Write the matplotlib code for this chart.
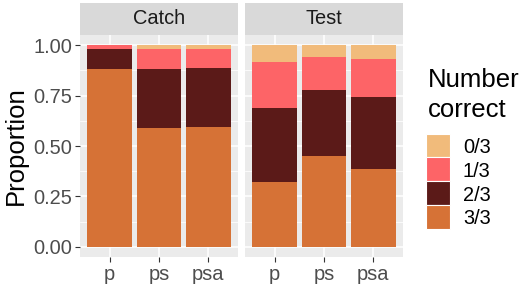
import matplotlib
matplotlib.use("Agg")
import matplotlib.pyplot as plt
from matplotlib.patches import Rectangle
import numpy as np

plt.rcParams['font.family'] = ['Liberation Sans', 'DejaVu Sans']

panels = ["Catch", "Test"]
conditions = ["p", "ps", "psa"]
levels = ["3/3", "2/3", "1/3", "0/3"]  # bottom to top
colors = {"0/3": "#F1BB7B", "1/3": "#FD6467", "2/3": "#5B1A18", "3/3": "#D67236"}

catch_33 = [0.881, 0.590, 0.593]
catch_23 = [0.099, 0.291, 0.293]
catch_13 = [0.020, 0.099, 0.094]
catch_03 = [0.000, 0.020, 0.020]

test_33 = [0.320, 0.450, 0.386]
test_23 = [0.367, 0.327, 0.357]
test_13 = [0.230, 0.165, 0.186]
test_03 = [0.083, 0.058, 0.071]

data = {
    "Catch": {"3/3": catch_33, "2/3": catch_23, "1/3": catch_13, "0/3": catch_03},
    "Test": {"3/3": test_33, "2/3": test_23, "1/3": test_13, "0/3": test_03},
}

W, H = 524, 286
fig = plt.figure(figsize=(W / 100, H / 100), dpi=100)

panel_left = [80, 245]
panel_w = 158
panel_top, panel_bot = 35, 257
strip_top = 3

tick_pt = 14.4
title_pt = 18.5

axes = []
for i, pname in enumerate(panels):
    l = panel_left[i]
    ax = fig.add_axes([l / W, (H - panel_bot) / H, panel_w / W, (panel_bot - panel_top) / H])
    axes.append(ax)
    ax.set_facecolor("#EBEBEB")
    x = np.arange(1, len(conditions) + 1)
    bottom = np.zeros(len(conditions))
    for lev in levels:
        vals = np.array(data[pname][lev])
        ax.bar(x, vals, width=0.9, bottom=bottom, color=colors[lev], linewidth=0, zorder=3)
        bottom = bottom + vals
    ax.set_xlim(0.4, 3.6)
    ax.set_ylim(-0.05, 1.05)
    ax.set_xticks(x)
    ax.set_xticklabels(conditions)
    ax.set_yticks([0, 0.25, 0.5, 0.75, 1.0])
    ax.set_yticks([0.125, 0.375, 0.625, 0.875], minor=True)
    ax.grid(True, which="major", color="white", linewidth=1.1, zorder=1)
    ax.grid(True, which="minor", axis="y", color="white", linewidth=0.55, zorder=1)
    ax.set_axisbelow(True)
    for s in ax.spines.values():
        s.set_visible(False)
    ax.tick_params(axis="both", which="major", length=3.5, width=0.8, color="#333333",
                   labelcolor="#4D4D4D", labelsize=tick_pt, pad=2)
    ax.tick_params(axis="both", which="minor", length=0)
    if i == 0:
        ax.set_yticklabels(["0.00", "0.25", "0.50", "0.75", "1.00"])
        ax.set_ylabel("Proportion", fontsize=title_pt, color="black", labelpad=4)
    else:
        ax.tick_params(axis="y", which="major", length=0, labelleft=False)
    # strip
    sax = fig.add_axes([l / W, (H - panel_top) / H, panel_w / W, (panel_top - strip_top) / H])
    sax.set_facecolor("#D9D9D9")
    sax.set_xticks([])
    sax.set_yticks([])
    for s in sax.spines.values():
        s.set_visible(False)
    sax.text(0.5, 0.5, pname, ha="center", va="center", fontsize=tick_pt,
             color="#1A1A1A", transform=sax.transAxes)

# legend (manual, ggplot style)
leg_order = ["0/3", "1/3", "2/3", "3/3"]
fig.text(428 / W, (H - 86.7) / H, "Number", fontsize=title_pt, ha="left", va="baseline")
fig.text(428 / W, (H - 116.7) / H, "correct", fontsize=title_pt, ha="left", va="baseline")
key_x, key_w = 425.5, 24
key_top0, key_pitch = 133.5, 23.8
for j, lev in enumerate(leg_order):
    top = key_top0 + j * key_pitch
    fig.add_artist(Rectangle((key_x / W, (H - top - key_pitch) / H), key_w / W, key_pitch / H,
                             transform=fig.transFigure, facecolor=colors[lev],
                             edgecolor="white", linewidth=0.8))
    fig.text(463 / W, (H - (top + 19.6)) / H, lev, fontsize=tick_pt, ha="left", va="baseline")

fig.savefig("out.png", dpi=100)
